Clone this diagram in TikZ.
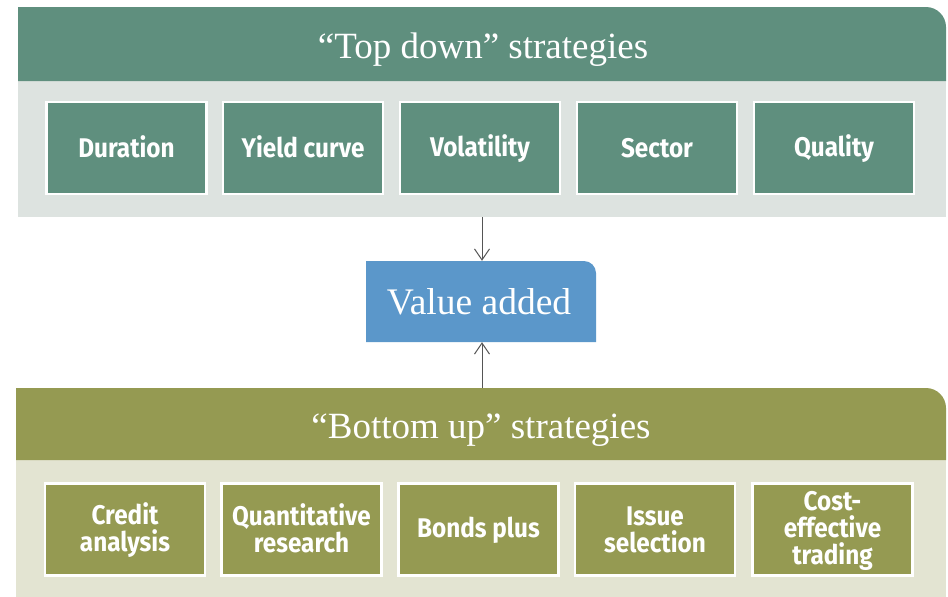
\documentclass[tikz,border=0pt]{standalone}
\usepackage{fontspec}
\setmainfont{Liberation Serif}
\newfontfamily\boxfont[FakeStretch=0.9]{Fira Sans}
\usetikzlibrary{arrows.meta}
\definecolor{topdark}{HTML}{5F8F7E}
\definecolor{toplight}{HTML}{DDE3E0}
\definecolor{botdark}{HTML}{959A52}
\definecolor{botlight}{HTML}{E3E4D2}
\definecolor{valblue}{HTML}{5B97CA}
\definecolor{arrowgray}{HTML}{555555}
% balanced strut so every line of box text sits at the same height
\newcommand\bxs{\rule[-4.2pt]{0pt}{27pt}}
\begin{document}
\begin{tikzpicture}[x=1pt,y=-1pt,
  headtext/.style={text=white,font=\fontsize{37}{40}\selectfont,inner sep=0pt},
  topbox/.style={fill=topdark,draw=white,line width=2.5pt,minimum width=160pt,minimum height=92pt,
    text=white,font=\boxfont\bfseries\fontsize{27}{27}\selectfont,align=center,inner sep=0pt},
  botbox/.style={topbox,fill=botdark},
  link/.style={draw=arrowgray,line width=1pt,-{Straight Barb[length=11pt,width=15pt,line width=1pt]}}]
\useasboundingbox (0,0) rectangle (948,597);
% upper group: header band and panel
\fill[toplight] (18,81) rectangle (946,217);
\fill[topdark] (18,81) -- (18,7) -- (926,7) .. controls (937,7) and (946,16) .. (946,27) -- (946,81) -- cycle;
\node[headtext] (tophead) at (483,50) {“Top down” strategies};
\node[topbox] (dur) at (126.5,148) {\bxs Duration};
\node[topbox] (yc)  at (303,148) {\bxs Yield curve};
\node[topbox] (vol) at (480,148) {\bxs Volatility};
\node[topbox] (sec) at (657,148) {\bxs Sector};
\node[topbox] (qua) at (834,148) {\bxs Quality};
\coordinate (topout) at (482,217);
% lower group: header band and panel
\fill[botlight] (16,460) rectangle (946,597);
\fill[botdark] (16,460) -- (16,388) -- (926,388) .. controls (937,388) and (946,397) .. (946,408) -- (946,460) -- cycle;
\node[headtext] (bothead) at (481,430) {“Bottom up” strategies};
\node[botbox] (cre) at (125,529.5) {\bxs Credit\\\bxs analysis};
\node[botbox] (qr)  at (301.5,529.5) {\bxs Quantitative\\\bxs research};
\node[botbox] (bp)  at (478.5,529.5) {\bxs Bonds plus};
\node[botbox] (iss) at (655,529.5) {\bxs Issue\\\bxs selection};
\node[botbox] (cet) at (832.5,529.5) {\bxs Cost-\\\bxs effective\\\bxs trading};
\coordinate (botout) at (482,388);
% central result box
\fill[valblue] (366,342) -- (366,261) -- (584,261) .. controls (590.6,261) and (596,266.4) .. (596,273) -- (596,342) -- cycle;
\node[text=white,font=\fontsize{37.5}{40}\selectfont,minimum width=230pt,minimum height=81pt,inner sep=0pt]
  (val) at (479,301.5) {Value added};
% connectors
\draw[link] (topout) -- (val.north -| topout);
\draw[link] (botout) -- (val.south -| botout);
\end{tikzpicture}
\end{document}
